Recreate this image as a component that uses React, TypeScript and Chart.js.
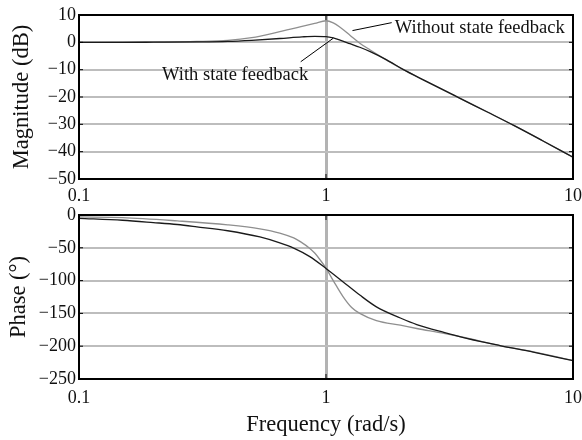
import React, { useEffect, useRef } from "react";
import { Chart, registerables } from "chart.js";
Chart.register(...registerables);

const FONT = "'Liberation Serif', 'Times New Roman', serif";

// Frequency axis (rad/s)
const freqTicks = [0.1, 1, 10];

// Magnitude plot (dB)
const magTicks = [10, 0, -10, -20, -30, -40, -50];
const magFreq = [0.1, 0.15, 0.2, 0.3, 0.4, 0.5, 0.65, 0.8, 0.9, 1.0, 1.07, 1.14, 1.25, 1.37, 1.51, 1.76, 2.05, 2.5, 3.49, 4.5, 5.73, 7.5, 10];
const magWithout = [0, 0.05, 0.1, 0.3, 0.7, 1.7, 3.9, 5.8, 6.9, 7.9, 7.1, 5.5, 2.6, -0.3, -2.8, -6.5, -9.9, -13.9, -20.5, -25.5, -30.3, -35.9, -42.0];
const magWith = [0, 0, 0.05, 0.15, 0.35, 0.75, 1.4, 2.0, 2.2, 2.1, 1.6, 0.8, -0.5, -1.8, -3.4, -6.4, -9.9, -13.9, -20.5, -25.5, -30.3, -35.9, -42.0];

// Phase plot (degrees)
const phaseTicks = [0, -50, -100, -150, -200, -250];
const phaseFreqWith = [0.1, 0.15, 0.2, 0.25, 0.3, 0.4, 0.54, 0.65, 0.74, 0.86, 1.0, 1.17, 1.37, 1.6, 2.0, 2.33, 3.0, 3.71, 5.06, 6.9, 10];
const phaseWith = [-5, -8, -11.5, -14.5, -18, -24, -33.5, -42.5, -50.5, -63.5, -81.5, -101.6, -122, -140, -157, -167, -179, -188, -199, -209, -222];
const phaseFreqWithout = [0.1, 0.15, 0.25, 0.4, 0.54, 0.65, 0.74, 0.79, 0.86, 0.9, 0.945, 1.0, 1.07, 1.17, 1.27, 1.37, 1.6, 2.0, 2.33, 3.0, 3.71, 5.06, 7.0, 10];
const phaseWithout = [-3, -4, -9, -15, -21, -27.5, -35, -41, -51, -58, -68, -81, -100, -124, -141, -150, -161, -168, -173, -180.5, -187.5, -199, -209, -222];

// Annotations (data units: [rad/s, dB])
const labelWithout = "Without state feedback";
const labelWith = "With state feedback";
const withoutTextAt = [1.9, 3.5];
const withoutLeader = [[1.28, 4.3], [1.845, 7.2]];
const withTextAt = [0.217, -13.8];
const withLeader = [[0.79, -7.1], [1.07, 1.5]];

const BLACK = "#1a1a1a";
const GRAY = "#8f8f8f";

const pts = (xs: number[], ys: number[]) => xs.map((x, i) => ({ x, y: ys[i] }));
const fmt = (v: number) => (v < 0 ? "\u2212" + Math.abs(v) : String(v));

const framePlugin = {
  id: "frame",
  afterDatasetsDraw(chart: any) {
    const { ctx, chartArea: a, scales } = chart;
    ctx.save();
    ctx.strokeStyle = "#000";
    ctx.lineWidth = 1;
    const ys = scales.y;
    ys.ticks.forEach((t: any) => {
      const py = ys.getPixelForValue(t.value);
      ctx.beginPath();
      ctx.moveTo(a.right, py);
      ctx.lineTo(a.right - 4, py);
      ctx.moveTo(a.left, py);
      ctx.lineTo(a.left + 4, py);
      ctx.stroke();
    });
    const px = scales.x.getPixelForValue(1);
    ctx.beginPath();
    ctx.moveTo(px, a.top);
    ctx.lineTo(px, a.top + 5);
    ctx.moveTo(px, a.bottom);
    ctx.lineTo(px, a.bottom - 5);
    ctx.stroke();
    ctx.lineWidth = 2;
    ctx.strokeRect(a.left, a.top, a.right - a.left, a.bottom - a.top);
    ctx.restore();
  },
};

const annotationPlugin = {
  id: "annot",
  afterDatasetsDraw(chart: any) {
    const { ctx, scales } = chart;
    const X = (v: number) => scales.x.getPixelForValue(v);
    const Y = (v: number) => scales.y.getPixelForValue(v);
    ctx.save();
    ctx.strokeStyle = "#000";
    ctx.lineWidth = 1;
    [withoutLeader, withLeader].forEach((l) => {
      ctx.beginPath();
      ctx.moveTo(X(l[0][0]), Y(l[0][1]));
      ctx.lineTo(X(l[1][0]), Y(l[1][1]));
      ctx.stroke();
    });
    ctx.fillStyle = "#111";
    ctx.font = `18.5px ${FONT}`;
    ctx.textAlign = "left";
    ctx.textBaseline = "alphabetic";
    ctx.fillText(labelWithout, X(withoutTextAt[0]), Y(withoutTextAt[1]));
    ctx.fillText(labelWith, X(withTextAt[0]), Y(withTextAt[1]));
    ctx.restore();
  },
};

function makeConfig(o: {
  datasets: any[];
  yTicks: number[];
  yTitle: string;
  yTitlePad: number;
  padTop: number;
  xHeight: number;
  xTickPad: number;
  xTitle?: string;
  plugins: any[];
}) {
  return {
    type: "line",
    data: { datasets: o.datasets },
    plugins: o.plugins,
    options: {
      responsive: false,
      animation: false,
      events: [],
      layout: { padding: { top: o.padTop, right: 9, left: 0, bottom: 0 } },
      plugins: { legend: { display: false }, tooltip: { enabled: false } },
      elements: { point: { radius: 0 }, line: { borderWidth: 1.3, cubicInterpolationMode: "monotone" } },
      scales: {
        x: {
          type: "logarithmic",
          min: 0.1,
          max: 10,
          afterBuildTicks: (s: any) => {
            s.ticks = freqTicks.map((v) => ({ value: v }));
          },
          afterFit: (s: any) => {
            s.height = o.xHeight;
            s.paddingLeft = 0;
            s.paddingRight = 0;
          },
          ticks: {
            autoSkip: false,
            maxRotation: 0,
            padding: o.xTickPad,
            color: "#111",
            font: { family: FONT, size: 18 },
            callback: (v: any) => String(v),
          },
          grid: {
            drawTicks: false,
            color: (c: any) => (c.tick && c.tick.value === 1 ? "#b3b3b3" : "rgba(0,0,0,0)"),
            lineWidth: 3,
          },
          border: { display: false },
          title: o.xTitle
            ? { display: true, text: o.xTitle, color: "#111", font: { family: FONT, size: 22.5 }, padding: { top: 0, bottom: 1 } }
            : { display: false },
        },
        y: {
          min: o.yTicks[o.yTicks.length - 1],
          max: o.yTicks[0],
          afterBuildTicks: (s: any) => {
            s.ticks = o.yTicks.map((v) => ({ value: v }));
          },
          afterFit: (s: any) => {
            s.width = 79;
            s.paddingTop = 0;
            s.paddingBottom = 0;
          },
          ticks: {
            padding: 3,
            color: "#111",
            font: { family: FONT, size: 18 },
            callback: (v: any) => fmt(v),
          },
          grid: { drawTicks: false, color: "#bdbdbd", lineWidth: 2 },
          border: { display: false },
          title: { display: true, text: o.yTitle, color: "#111", font: { family: FONT, size: 22.5 }, padding: { top: o.yTitlePad, bottom: 0 } },
        },
      },
    },
  } as any;
}

export default function App() {
  const topRef = useRef<HTMLCanvasElement>(null);
  const botRef = useRef<HTMLCanvasElement>(null);

  useEffect(() => {
    const top = new Chart(
      topRef.current!,
      makeConfig({
        datasets: [
          { data: pts(magFreq, magWith), borderColor: BLACK },
          { data: pts(magFreq, magWithout), borderColor: GRAY },
        ],
        yTicks: magTicks,
        yTitle: "Magnitude (dB)",
        yTitlePad: 9,
        padTop: 15,
        xHeight: 26,
        xTickPad: 6,
        plugins: [framePlugin, annotationPlugin],
      })
    );
    const bot = new Chart(
      botRef.current!,
      makeConfig({
        datasets: [
          { data: pts(phaseFreqWith, phaseWith), borderColor: BLACK },
          { data: pts(phaseFreqWithout, phaseWithout), borderColor: GRAY },
        ],
        yTicks: phaseTicks,
        yTitle: "Phase (\u00B0)",
        yTitlePad: 5.5,
        padTop: 10,
        xHeight: 61,
        xTickPad: 8,
        xTitle: "Frequency (rad/s)",
        plugins: [framePlugin],
      })
    );
    return () => {
      top.destroy();
      bot.destroy();
    };
  }, []);

  return (
    <div style={{ position: "fixed", left: 0, top: 0, width: 582, height: 440, background: "#fff" }}>
      <canvas ref={topRef} width={582} height={205} style={{ position: "absolute", left: 0, top: 0, width: 582, height: 205 }} />
      <canvas ref={botRef} width={582} height={235} style={{ position: "absolute", left: 0, top: 205, width: 582, height: 235 }} />
    </div>
  );
}
